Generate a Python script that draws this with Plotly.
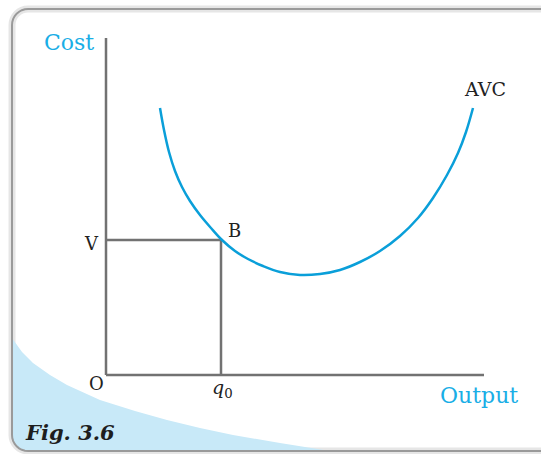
import math
import plotly.graph_objects as go

W, H = 541, 454

# AVC curve (output, cost)
avc_x = [5.4, 5.8, 6.3, 6.9, 7.6, 8.4, 9.4, 10.5, 11.6, 12.9, 14.2, 15.7, 17.4,
         19.4, 21.4, 23.4, 25.4, 27.4, 29.4, 31.2, 32.7, 34.1, 35.2, 36.0, 36.7]
avc_y = [26.7, 24.5, 22.3, 20.4, 18.8, 17.4, 16.0, 14.7, 13.5, 12.4, 11.6, 10.9, 10.3,
         10.0, 10.1, 10.5, 11.3, 12.4, 13.9, 15.7, 17.7, 20.0, 22.2, 24.3, 26.7]

q0 = 11.5
v_level = 13.5
x_axis_end = 37.8
y_axis_end = 33.7

BLUE = "#0a9fd9"
LABEL_BLUE = "#19aee6"
GREY = "#727272"
SERIF = "DejaVu Serif, Liberation Serif, serif"


def px(x, y):
    """pixel -> paper coords"""
    return x / W, 1 - y / H


def path(points, close=True):
    s = ""
    for i, (x, y) in enumerate(points):
        a, b = px(x, y)
        s += ("M" if i == 0 else "L") + f"{a:.4f},{b:.4f} "
    return s + ("Z" if close else "")


def arc(cx, cy, rr, a_start, a_end, n=8):
    return [(cx + rr * math.cos(math.radians(a_start + (a_end - a_start) * k / n)),
             cy + rr * math.sin(math.radians(a_start + (a_end - a_start) * k / n)))
            for k in range(n + 1)]


fig = go.Figure()

# axes
fig.add_scatter(x=[0, 0], y=[y_axis_end, 0], mode="lines", line=dict(color=GREY, width=2.5),
                hoverinfo="skip")
fig.add_scatter(x=[0, x_axis_end], y=[0, 0], mode="lines", line=dict(color=GREY, width=2.5),
                hoverinfo="skip")
# guide lines to B
fig.add_scatter(x=[0, q0, q0], y=[v_level, v_level, 0], mode="lines",
                line=dict(color=GREY, width=2.5), hoverinfo="skip")
# AVC
fig.add_scatter(x=avc_x, y=avc_y, mode="lines",
                line=dict(color=BLUE, width=2.5, shape="spline", smoothing=1),
                hoverinfo="skip")

# card: shadow, border, swoosh
r = 16
x0, y0, x1, y1 = 12, 9, 560, 451
card_pts = arc(x0 + r, y0 + r, r, 180, 270) + [(x1, y0), (x1, y1)] + arc(x0 + r, y1 - r, r, 90, 180)

swoosh = [(12, 338), (22, 352), (33, 363), (50, 375), (67, 385), (100, 400), (135, 411), (167, 420),
          (200, 428), (233, 435), (280, 443), (330, 451)]
swoosh_shape = swoosh + [(x0 + r, y1)] + arc(x0 + r, y1 - r, r, 90, 180)

shapes = [
    dict(type="path", path=path(card_pts), xref="paper", yref="paper",
         line=dict(color="#e6e6e6", width=7), fillcolor="white", layer="below"),
    dict(type="path", path=path(swoosh_shape), xref="paper", yref="paper",
         line=dict(width=0), fillcolor="#c8e9f8", layer="below"),
    dict(type="path", path=path(card_pts), xref="paper", yref="paper",
         line=dict(color="#9a9a9a", width=2), fillcolor="rgba(0,0,0,0)", layer="below"),
]

ann = []


def label(text, x, y, size=17, color="#222", xanchor="center"):
    a, b = px(x, y)
    ann.append(dict(text=text, x=a, y=b, xref="paper", yref="paper", showarrow=False,
                    xanchor=xanchor, yanchor="middle",
                    font=dict(family=SERIF, size=size, color=color)))


label("Cost", 69, 43, size=22, color=LABEL_BLUE)
label("Output", 479, 395, size=22, color=LABEL_BLUE)
label("AVC", 485, 89, size=19)
label("B", 234, 231, size=18)
label("V", 91, 243, size=18)
label("O", 96, 383, size=18)
label("<i>q</i><sub>0</sub>", 222, 388, size=19)
label("<b><i>Fig. 3.6</i></b>", 70, 432, size=21, color="#1e1e1e")

fig.update_layout(
    width=W, height=H,
    margin=dict(l=0, r=0, t=0, b=0),
    paper_bgcolor="white", plot_bgcolor="rgba(0,0,0,0)",
    showlegend=False,
    xaxis=dict(range=[-10.6, 43.5], visible=False, fixedrange=True),
    yaxis=dict(range=[-7.9, 37.5], visible=False, fixedrange=True),
    shapes=shapes, annotations=ann,
)

fig.write_html("out.html", config={"displayModeBar": False},
               post_script="document.body.style.margin='0';document.body.style.overflow='hidden';")
